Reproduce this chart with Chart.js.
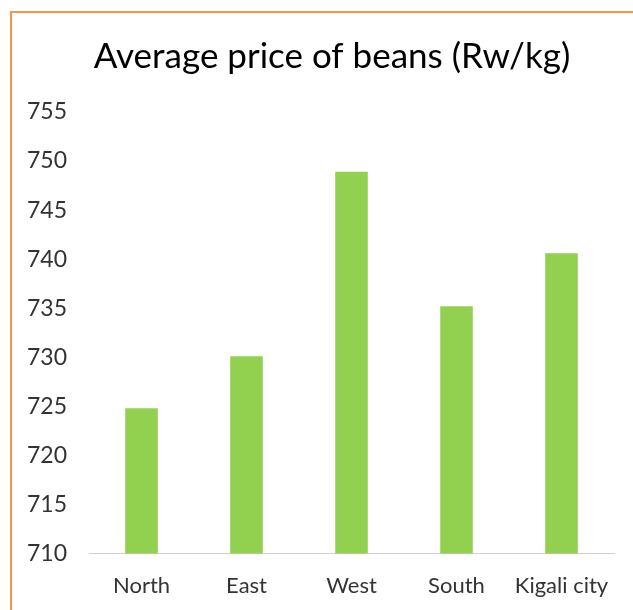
<!DOCTYPE html>
<html>
<head>
<meta charset="utf-8">
<script src="https://cdn.jsdelivr.net/npm/chart.js@4/dist/chart.umd.min.js"></script>
<style>
  html, body { margin: 0; padding: 0; background: #fff; overflow: hidden; }
  #frame {
    position: absolute; left: 10px; top: 11px; width: 700px; height: 700px;
    border-top: 2px solid #F79646; border-left: 2px solid #F79646;
  }
  #wrap { position: absolute; left: 0; top: 0; width: 633px; height: 610px; overflow: hidden; }
</style>
</head>
<body>
<div id="frame"></div>
<div id="wrap"><canvas id="PriceChart" width="633" height="630"></canvas></div>
<script>
// Average price of beans, by province
const regions = ['North', 'East', 'West', 'South', 'Kigali city'];
const prices = [724.8, 730.1, 748.9, 735.2, 740.6];
const yTicks = [710, 715, 720, 725, 730, 735, 740, 745, 750, 755];
const chartTitle = 'Average price of beans (Rw/kg)';

// title is centred on the whole (cropped) frame, not on the canvas, so draw it by hand
const titlePlugin = {
    id: 'frameTitle',
    afterDraw(chart) {
        const c = chart.ctx;
        c.save();
        c.font = '35px Lato';
        c.fillStyle = '#000000';
        c.textAlign = 'center';
        c.textBaseline = 'alphabetic';
        c.fillText(chartTitle, 332, 68);
        c.restore();
    }
};

const ctx = document.getElementById('PriceChart').getContext('2d');
window.priceChart = new Chart(ctx, {
    type: 'bar',
    data: {
        labels: regions,
        datasets: [{
            label: 'Average price',
            data: prices,
            backgroundColor: '#92D050',
            borderWidth: 0,
            categoryPercentage: 1.0,
            barPercentage: 0.31
        }]
    },
    plugins: [titlePlugin],
    options: {
        responsive: false,
        animation: false,
        layout: {
            padding: { left: 5, right: 19, top: 112, bottom: 12 }
        },
        plugins: {
            legend: { display: false },
            tooltip: { enabled: false },
            title: { display: false }
        },
        scales: {
            x: {
                grid: { display: false, drawTicks: false },
                border: { display: true, color: '#d0d0d0', width: 1, dash: [2, 1] },
                ticks: {
                    color: '#333333',
                    font: { family: 'Lato', size: 22 },
                    padding: 19
                }
            },
            y: {
                min: 710,
                max: 755,
                afterBuildTicks: function (axis) {
                    axis.ticks = yTicks.map(function (v) { return { value: v }; });
                },
                grid: { display: false, drawTicks: false },
                border: { display: false },
                ticks: {
                    color: '#333333',
                    font: { family: 'Lato', size: 23 },
                    padding: 22
                }
            }
        }
    }
});
</script>
</body>
</html>
